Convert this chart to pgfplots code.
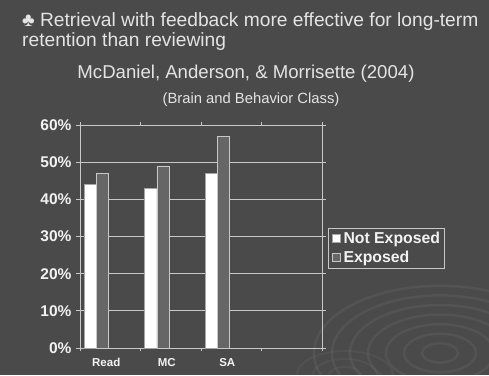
\documentclass[border=0pt]{standalone}
\usepackage{pgfplots}
\pgfplotsset{compat=1.18}
\usepackage{fontspec}
\setmainfont{Liberation Sans}
\definecolor{bg}{HTML}{4A4A4A}
\definecolor{titlec}{HTML}{E4E4E4}
\definecolor{lab}{HTML}{F2F2F2}
\definecolor{gridc}{HTML}{C8C8C8}
\definecolor{barg}{HTML}{666666}
\begin{document}
\begin{tikzpicture}[x=1pt,y=1pt]
\fill[bg] (0,0) rectangle (489,375);
\begin{scope}
\clip (0,0) rectangle (489,375);
\foreach \r in {12,24,36,48,60,72,84}
  \draw[white, opacity=0.05, line width=2.5pt] (440,22) ellipse ({\r*1.5} and {\r*0.8});
\foreach \r in {10,20,30}
  \draw[white, opacity=0.04, line width=2pt] (345,0) ellipse ({\r*1.6} and {\r*0.8});
\end{scope}
\node[anchor=base west, text=titlec, inner sep=0pt, font=\fontsize{19.2}{20}\selectfont] at (22,348) {♣ Retrieval with feedback more effective for long-term};
\node[anchor=base west, text=titlec, inner sep=0pt, font=\fontsize{19.2}{20}\selectfont] at (22,328) {retention than reviewing};
\node[anchor=base, text=titlec, inner sep=0pt, font=\fontsize{18.6}{20}\selectfont] at (246,296) {McDaniel, Anderson, \& Morrisette (2004)};
\node[anchor=base, text=titlec, inner sep=0pt, font=\fontsize{14.8}{16}\selectfont] at (251,271) {(Brain and Behavior Class)};
\begin{axis}[
  at={(80pt,27pt)}, anchor=south west, scale only axis,
  width=242pt, height=223pt,
  xmin=-0.5, xmax=3.5, ymin=0, ymax=60,
  /pgf/number format/assume math mode=true,
  ytick={0,10,20,30,40,50,60},
  yticklabel={\pgfmathprintnumber{\tick}\%},
  y tick label style={font=\bfseries\fontsize{15.5}{16}\selectfont, text=lab, xshift=-1pt},
  ymajorgrids, grid style={gridc, line width=0.9pt},
  axis line style={gridc, line width=0.9pt},
  xtick={0,1,2}, xticklabels={Read,MC,SA},
  x tick label style={font=\bfseries\fontsize{11.5}{13}\selectfont, text=lab, xshift=-4pt, yshift=-3pt},
  major x tick style={draw=none},
  minor xtick={-0.5,0.5,1.5,2.5,3.5},
  tick style={gridc, line width=0.9pt},
  major tick length=4pt, minor tick length=3pt,
  tick align=outside,
  ybar, bar width=0.2,
  area legend,
  legend image code/.code={\draw[#1, line width=0.6pt] (0.5pt,-3pt) rectangle (8.5pt,5pt);\path[draw=none,fill=none] (0pt,0pt) -- (11pt,0pt);},
  legend style={at={(1.025,0.538)}, anchor=north west, draw=gridc, line width=0.9pt, fill=bg, text=lab,
    font=\bfseries\fontsize{15.8}{17}\selectfont, inner sep=3pt, row sep=4pt,
    legend cell align=left, nodes={inner sep=1pt}},
]
\addplot[fill=white, draw=gray!70, line width=0.5pt, bar shift=-0.33] coordinates {(0,44) (1,43) (2,47)};
\addlegendentry{Not Exposed}
\addplot[fill=barg, draw=gridc, line width=0.6pt, bar shift=-0.13] coordinates {(0,47) (1,49) (2,57)};
\addlegendentry{Exposed}
\end{axis}
\end{tikzpicture}
\end{document}
